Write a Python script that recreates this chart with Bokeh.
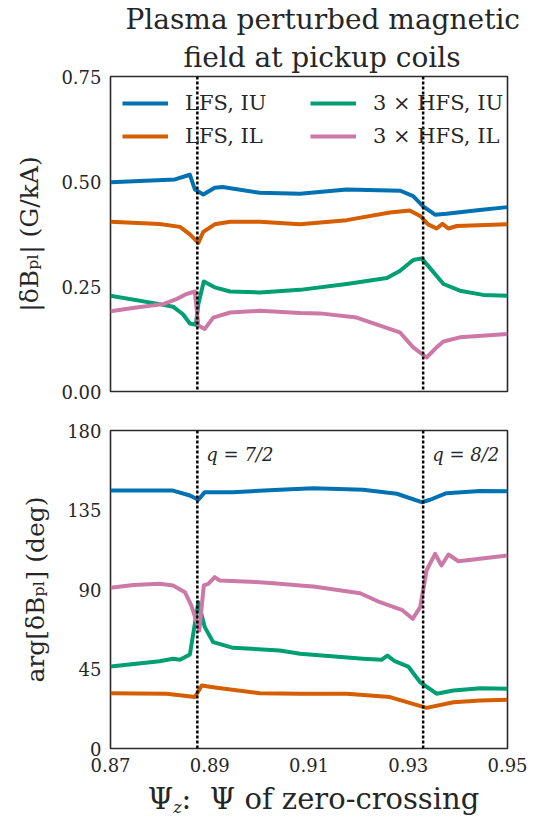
from bokeh.plotting import figure
from bokeh.models import (Range1d, FixedTicker, PrintfTickFormatter, Span, Label,
                          Legend, LegendItem, Title, Div)
from bokeh.layouts import column
from bokeh.embed import file_html
from bokeh.resources import INLINE

# ---------------- data ----------------
# top panel: |dB_pl| (G/kA)
lfs_iu_amp_x = [0.870, 0.8830, 0.8860, 0.8870, 0.8887, 0.8910, 0.8926, 0.9001, 0.9082, 0.9176,
                0.9284, 0.9310, 0.9330, 0.9354, 0.9377, 0.9444, 0.950]
lfs_iu_amp_y = [0.498, 0.505, 0.516, 0.481, 0.469, 0.485, 0.487, 0.473, 0.471, 0.481,
                0.478, 0.465, 0.441, 0.421, 0.423, 0.432, 0.439]

lfs_il_amp_x = [0.870, 0.8799, 0.8840, 0.8860, 0.8877, 0.8887, 0.8910, 0.8941, 0.9001, 0.9082,
                0.9176, 0.9263, 0.9303, 0.9324, 0.9340, 0.9357, 0.9369, 0.9381, 0.9398, 0.950]
lfs_il_amp_y = [0.404, 0.399, 0.392, 0.374, 0.354, 0.380, 0.398, 0.404, 0.404, 0.398,
                0.408, 0.426, 0.431, 0.418, 0.398, 0.388, 0.399, 0.388, 0.394, 0.398]

hfs_iu_amp_x = [0.870, 0.8799, 0.8826, 0.8846, 0.8860, 0.8872, 0.8877, 0.8888, 0.8910, 0.8941,
                0.9001, 0.9082, 0.9176, 0.9257, 0.9283, 0.9310, 0.9327, 0.9340, 0.9371, 0.9404,
                0.9451, 0.950]
hfs_iu_amp_y = [0.228, 0.208, 0.202, 0.184, 0.162, 0.159, 0.208, 0.262, 0.248, 0.238,
                0.236, 0.242, 0.256, 0.270, 0.287, 0.313, 0.317, 0.299, 0.256, 0.240,
                0.230, 0.228]

hfs_il_amp_x = [0.870, 0.8752, 0.8806, 0.8833, 0.8853, 0.8870, 0.8877, 0.8890, 0.8907, 0.8941,
                0.9001, 0.9082, 0.9122, 0.9196, 0.9283, 0.9310, 0.9337, 0.9357, 0.9371, 0.9404,
                0.950]
hfs_il_amp_y = [0.191, 0.200, 0.208, 0.220, 0.232, 0.238, 0.157, 0.149, 0.176, 0.188,
                0.192, 0.187, 0.186, 0.176, 0.141, 0.105, 0.081, 0.105, 0.119, 0.129,
                0.137]

# bottom panel: arg[dB_pl] (deg)
lfs_iu_ph_x = [0.870, 0.8826, 0.8860, 0.8877, 0.8890, 0.8947, 0.9041, 0.9109, 0.9209, 0.9277,
               0.9327, 0.9344, 0.9377, 0.9445, 0.950]
lfs_iu_ph_y = [146.0, 146.0, 143.2, 140.8, 145.1, 145.1, 146.5, 147.3, 146.4, 144.2,
               139.4, 140.8, 144.5, 145.7, 145.6]

lfs_il_ph_x = [0.870, 0.8813, 0.8870, 0.8884, 0.8897, 0.8914, 0.9001, 0.9082, 0.9176, 0.9263,
               0.9337, 0.9391, 0.9445, 0.950]
lfs_il_ph_y = [31.3, 31.0, 29.1, 35.7, 35.1, 34.4, 31.3, 31.0, 31.0, 29.1,
               23.0, 26.2, 27.2, 27.6]

hfs_iu_ph_x = [0.870, 0.8799, 0.8826, 0.8840, 0.8860, 0.8870, 0.8877, 0.8890, 0.8907, 0.8947,
               0.9041, 0.9082, 0.9209, 0.9246, 0.9258, 0.9273, 0.9300, 0.9324, 0.9357, 0.9391,
               0.9445, 0.950]
hfs_iu_ph_y = [46.4, 49.4, 50.8, 50.2, 53.2, 70.6, 82.8, 68.7, 60.2, 57.0,
               55.5, 53.6, 50.8, 50.2, 52.6, 49.4, 46.4, 37.5, 31.0, 32.8,
               34.1, 33.8]

hfs_il_ph_x = [0.870, 0.8746, 0.8799, 0.8826, 0.8850, 0.8863, 0.8879, 0.8888, 0.8897, 0.8910,
               0.8920, 0.9001, 0.9041, 0.9082, 0.9109, 0.9203, 0.9243, 0.9287, 0.9309, 0.9324,
               0.9337, 0.9354, 0.9367, 0.9381, 0.9401, 0.950]
hfs_il_ph_y = [91.0, 92.6, 93.2, 92.3, 88.5, 80.9, 66.8, 92.3, 93.2, 97.0,
               95.1, 94.1, 93.2, 92.3, 91.7, 87.9, 82.8, 78.5, 73.4, 80.0,
               100.8, 110.2, 103.6, 109.8, 106.0, 109.2]

rational_surfaces = [0.8875, 0.9330]
rational_labels = ["q = 7/2", "q = 8/2"]
series_labels = ["LFS, IU", "LFS, IL", "3 × HFS, IU", "3 × HFS, IL"]
x_ticks = [0.87, 0.89, 0.91, 0.93, 0.95]
amp_ticks = [0.0, 0.25, 0.50, 0.75]
phase_ticks = [0, 45, 90, 135, 180]

colors = ["#0072B2", "#D55E00", "#009E73", "#CC79A7"]
FONT = "DejaVu Serif"
TXT = "#262626"
LW = 4


def style(p):
    p.outline_line_color = "#2b2b2b"
    p.outline_line_width = 1.6
    p.xgrid.visible = False
    p.ygrid.visible = False
    for ax in (p.xaxis[0], p.yaxis[0]):
        ax.axis_line_color = None
        ax.major_tick_line_color = None
        ax.minor_tick_line_color = None
        ax.major_tick_out = 0
        ax.major_tick_in = 0
        ax.major_label_text_font = FONT
        ax.major_label_text_font_size = "18px"
        ax.major_label_text_color = TXT
        ax.axis_label_text_font = FONT
        ax.axis_label_text_font_style = "normal"
        ax.axis_label_text_font_size = "25px"
        ax.axis_label_text_color = TXT
    p.yaxis[0].major_label_standoff = 9
    p.xaxis[0].major_label_standoff = 9
    p.yaxis[0].axis_label_standoff = 14


x_range = Range1d(0.87, 0.95)

# ---------------- top figure ----------------
p1 = figure(width=538, height=410, x_range=x_range, y_range=Range1d(0, 0.75),
            output_backend="svg", toolbar_location=None,
            min_border_left=110, min_border_right=31, min_border_top=75, min_border_bottom=19)
style(p1)
p1.xaxis.visible = False
p1.yaxis.ticker = FixedTicker(ticks=amp_ticks)
p1.yaxis.formatter = PrintfTickFormatter(format="%.2f")
p1.yaxis.axis_label = "|δB\u209a\u2097| (G/kA)"

amp_data = [(lfs_iu_amp_x, lfs_iu_amp_y), (lfs_il_amp_x, lfs_il_amp_y),
            (hfs_iu_amp_x, hfs_iu_amp_y), (hfs_il_amp_x, hfs_il_amp_y)]
rs = []
for (xs, ys), c in zip(amp_data, colors):
    rs.append(p1.line(xs, ys, line_color=c, line_width=LW, line_join="round"))

for loc in rational_surfaces:
    p1.add_layout(Span(location=loc, dimension="height", line_color="black",
                       line_width=2.5, line_dash="3 2"))

leg_kw = dict(label_text_font=FONT, label_text_font_size="21px", label_text_color=TXT,
              glyph_width=46, glyph_height=20, label_standoff=17, spacing=9, padding=0,
              margin=0, background_fill_alpha=0, border_line_alpha=0, label_height=20)
leg1 = Legend(items=[LegendItem(label=series_labels[0], renderers=[rs[0]]),
                     LegendItem(label=series_labels[1], renderers=[rs[1]])],
              location=(12, 243), **leg_kw)
leg2 = Legend(items=[LegendItem(label=series_labels[2], renderers=[rs[2]]),
                     LegendItem(label=series_labels[3], renderers=[rs[3]])],
              location=(200, 243), **leg_kw)
p1.add_layout(leg1, "center")
p1.add_layout(leg2, "center")

p1.add_layout(Title(text="field at pickup coils", align="left", text_font=FONT,
                    text_font_size="28px", text_font_style="normal", text_color=TXT,
                    standoff=6, offset=73), "above")
p1.add_layout(Title(text="Plasma perturbed magnetic", align="left", text_font=FONT,
                    text_font_size="28px", text_font_style="normal", text_color=TXT,
                    standoff=0, offset=15), "above")

# ---------------- bottom figure ----------------
p2 = figure(width=538, height=368, x_range=x_range, y_range=Range1d(0, 180),
            output_backend="svg", toolbar_location=None,
            min_border_left=110, min_border_right=31, min_border_top=20, min_border_bottom=30)
style(p2)
p2.yaxis.ticker = FixedTicker(ticks=phase_ticks)
p2.xaxis.ticker = FixedTicker(ticks=x_ticks)
p2.xaxis.formatter = PrintfTickFormatter(format="%.2f")
p2.yaxis.axis_label = "arg[δB\u209a\u2097] (deg)"

ph_data = [(lfs_iu_ph_x, lfs_iu_ph_y), (lfs_il_ph_x, lfs_il_ph_y),
           (hfs_iu_ph_x, hfs_iu_ph_y), (hfs_il_ph_x, hfs_il_ph_y)]
for (xs, ys), c in zip(ph_data, colors):
    p2.line(xs, ys, line_color=c, line_width=LW, line_join="round")

for loc, lab in zip(rational_surfaces, rational_labels):
    p2.add_layout(Span(location=loc, dimension="height", line_color="black",
                       line_width=2.5, line_dash="3 2"))
    p2.add_layout(Label(x=loc, y=166.5, text=lab, x_offset=9, text_font=FONT,
                        text_font_style="italic", text_font_size="18px",
                        text_color=TXT, text_baseline="middle"))

xlabel = Div(text="Ψ<span style='position:relative;top:4px;font-size:16px;font-style:italic;line-height:0'>z</span>:&nbsp;&nbsp;Ψ of zero-crossing",
             width=538, height=39,
             styles={"font-family": FONT, "font-size": "29px", "color": TXT,
                     "text-align": "center", "padding-left": "79px", "padding-top": "0px",
                     "line-height": "32px", "box-sizing": "border-box", "width": "538px",
                     "overflow": "visible", "white-space": "nowrap"})

layout = column(p1, p2, xlabel, spacing=0)
open("out.html", "w").write(file_html(layout, INLINE))
